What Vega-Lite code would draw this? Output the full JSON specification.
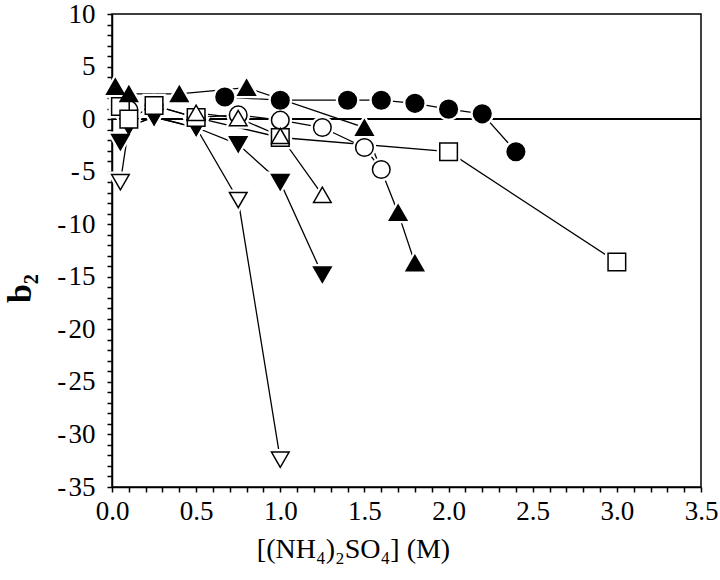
{
  "$schema": "https://vega.github.io/schema/vega-lite/v6.json",
  "width": 589,
  "height": 473,
  "autosize": {"type": "none"},
  "padding": {"left": 112, "top": 14, "right": 19, "bottom": 93},
  "background": "white",
  "config": {
    "view": {"stroke": "black", "strokeWidth": 1.5},
    "font": "Liberation Serif"
  },
  "data": {
    "values": [
      {"series": "od", "conc": 0.05, "b2": -6.0},
      {"series": "od", "conc": 0.1, "b2": -0.7},
      {"series": "od", "conc": 0.25, "b2": 0.2},
      {"series": "od", "conc": 0.5, "b2": -0.8},
      {"series": "od", "conc": 0.75, "b2": -7.7},
      {"series": "od", "conc": 1.0, "b2": -32.4},
      {"series": "fd", "conc": 0.05, "b2": -2.2},
      {"series": "fd", "conc": 0.1, "b2": -0.7},
      {"series": "fd", "conc": 0.25, "b2": 0.2},
      {"series": "fd", "conc": 0.5, "b2": -0.8},
      {"series": "fd", "conc": 0.75, "b2": -2.4},
      {"series": "fd", "conc": 1.0, "b2": -6.0},
      {"series": "fd", "conc": 1.25, "b2": -14.8},
      {"series": "oc", "conc": 0.1, "b2": 0.9},
      {"series": "oc", "conc": 0.25, "b2": 1.3},
      {"series": "oc", "conc": 0.5, "b2": 0.15},
      {"series": "oc", "conc": 0.75, "b2": 0.4},
      {"series": "oc", "conc": 1.0, "b2": -0.1},
      {"series": "oc", "conc": 1.25, "b2": -0.8},
      {"series": "oc", "conc": 1.5, "b2": -2.7},
      {"series": "oc", "conc": 1.6, "b2": -4.8},
      {"series": "os", "conc": 0.05, "b2": 1.2},
      {"series": "os", "conc": 0.1, "b2": 0.0},
      {"series": "os", "conc": 0.25, "b2": 1.3},
      {"series": "os", "conc": 0.5, "b2": 0.15},
      {"series": "os", "conc": 1.0, "b2": -1.75},
      {"series": "os", "conc": 2.0, "b2": -3.1},
      {"series": "os", "conc": 3.0, "b2": -13.6},
      {"series": "ot", "conc": 0.5, "b2": 0.6},
      {"series": "ot", "conc": 0.75, "b2": 0.1},
      {"series": "ot", "conc": 1.0, "b2": -1.6},
      {"series": "ot", "conc": 1.25, "b2": -7.2},
      {"series": "ft", "conc": 0.02, "b2": 3.1},
      {"series": "ft", "conc": 0.1, "b2": 2.4},
      {"series": "ft", "conc": 0.4, "b2": 2.4},
      {"series": "ft", "conc": 0.8, "b2": 3.0},
      {"series": "ft", "conc": 1.5, "b2": -0.8},
      {"series": "ft", "conc": 1.7, "b2": -8.9},
      {"series": "ft", "conc": 1.8, "b2": -13.7},
      {"series": "fc", "conc": 0.67, "b2": 2.1},
      {"series": "fc", "conc": 1.0, "b2": 1.8},
      {"series": "fc", "conc": 1.4, "b2": 1.8},
      {"series": "fc", "conc": 1.6, "b2": 1.8},
      {"series": "fc", "conc": 1.8, "b2": 1.5},
      {"series": "fc", "conc": 2.0, "b2": 0.95},
      {"series": "fc", "conc": 2.2, "b2": 0.5},
      {"series": "fc", "conc": 2.4, "b2": -3.1}
    ]
  },
  "layer": [
    {
      "mark": {"type": "line", "color": "black", "strokeWidth": 1.3},
      "encoding": {
        "x": {
          "field": "conc", "type": "quantitative",
          "scale": {"domain": [0, 3.5], "nice": false, "zero": false},
          "axis": {
            "values": [0, 0.1, 0.2, 0.3, 0.4, 0.5, 0.6, 0.7, 0.8, 0.9, 1.0, 1.1, 1.2, 1.3, 1.4, 1.5, 1.6, 1.7, 1.8, 1.9, 2.0, 2.1, 2.2, 2.3, 2.4, 2.5, 2.6, 2.7, 2.8, 2.9, 3.0, 3.1, 3.2, 3.3, 3.4, 3.5],
            "tickCount": 200,
            "labelExpr": "abs(round(datum.value*10)%5)==0 ? format(datum.value,'.1f') : ''",
            "labelFont": "Liberation Serif", "labelFontSize": 27, "labelColor": "black",
            "labelPadding": 6, "labelFlush": false, "labelOverlap": false,
            "tickSize": 5, "tickColor": "black", "tickWidth": 1.5,
            "domainColor": "black", "domainWidth": 1.5, "grid": false,
            "title": "[(NH₄)₂SO₄] (M)",
            "titleFont": "Liberation Serif", "titleFontSize": 28, "titleFontWeight": "normal", "titleColor": "black",
            "titleX": 241, "titleY": 70, "titleBaseline": "alphabetic", "titleAlign": "center", "titleAnchor": null
          }
        },
        "y": {
          "field": "b2", "type": "quantitative",
          "scale": {"domain": [-35, 10], "nice": false, "zero": false},
          "axis": {
            "values": [-35, -34, -33, -32, -31, -30, -29, -28, -27, -26, -25, -24, -23, -22, -21, -20, -19, -18, -17, -16, -15, -14, -13, -12, -11, -10, -9, -8, -7, -6, -5, -4, -3, -2, -1, 0, 1, 2, 3, 4, 5, 6, 7, 8, 9, 10],
            "tickCount": 200,
            "labelExpr": "datum.value % 5 == 0 ? (datum.value < 0 ? '-\u200a' + abs(datum.value) : '' + datum.value) : ''",
            "labelFont": "Liberation Serif", "labelFontSize": 27, "labelColor": "black",
            "labelPadding": 12, "labelFlush": false, "labelOverlap": false,
            "tickSize": 5, "tickColor": "black", "tickWidth": 1.5,
            "domainColor": "black", "domainWidth": 1.5, "grid": false,
            "title": "b₂",
            "titleFont": "Liberation Serif", "titleFontSize": 34, "titleFontWeight": "bold", "titleColor": "black",
            "titleX": -92, "titleY": 274, "titleAngle": 270, "titleAlign": "center", "titleBaseline": "middle"
          }
        },
        "detail": {"field": "series", "type": "nominal"}
      }
    },
    {
      "mark": {"type": "rule", "color": "black", "strokeWidth": 0.8},
      "encoding": {"y": {"datum": 0}}
    },
    {
      "mark": {"type": "point", "filled": true, "fill": "white", "stroke": "white", "strokeWidth": 6, "opacity": 1},
      "encoding": {
        "x": {"field": "conc", "type": "quantitative"},
        "y": {"field": "b2", "type": "quantitative"},
        "shape": {"field": "series", "type": "nominal", "legend": null,
          "scale": {"domain": ["od", "fd", "oc", "os", "ot", "ft", "fc"], "range": ["triangle-down", "triangle-down", "circle", "square", "triangle-up", "triangle-up", "circle"]}},
        "size": {"field": "series", "type": "nominal", "legend": null,
          "scale": {"domain": ["od", "fd", "oc", "os", "ot", "ft", "fc"], "range": [310, 310, 200, 169, 310, 310, 220]}}
      }
    },
    {
      "mark": {"type": "point", "filled": true, "stroke": "black", "strokeWidth": 1.5, "opacity": 1},
      "encoding": {
        "x": {"field": "conc", "type": "quantitative"},
        "y": {"field": "b2", "type": "quantitative"},
        "shape": {"field": "series", "type": "nominal", "legend": null,
          "scale": {"domain": ["od", "fd", "oc", "os", "ot", "ft", "fc"], "range": ["triangle-down", "triangle-down", "circle", "square", "triangle-up", "triangle-up", "circle"]}},
        "size": {"field": "series", "type": "nominal", "legend": null,
          "scale": {"domain": ["od", "fd", "oc", "os", "ot", "ft", "fc"], "range": [310, 310, 200, 169, 310, 310, 220]}},
        "fill": {"field": "series", "type": "nominal", "legend": null,
          "scale": {"domain": ["od", "fd", "oc", "os", "ot", "ft", "fc"], "range": ["white", "black", "white", "white", "white", "black", "black"]}}
      }
    }
  ]
}
